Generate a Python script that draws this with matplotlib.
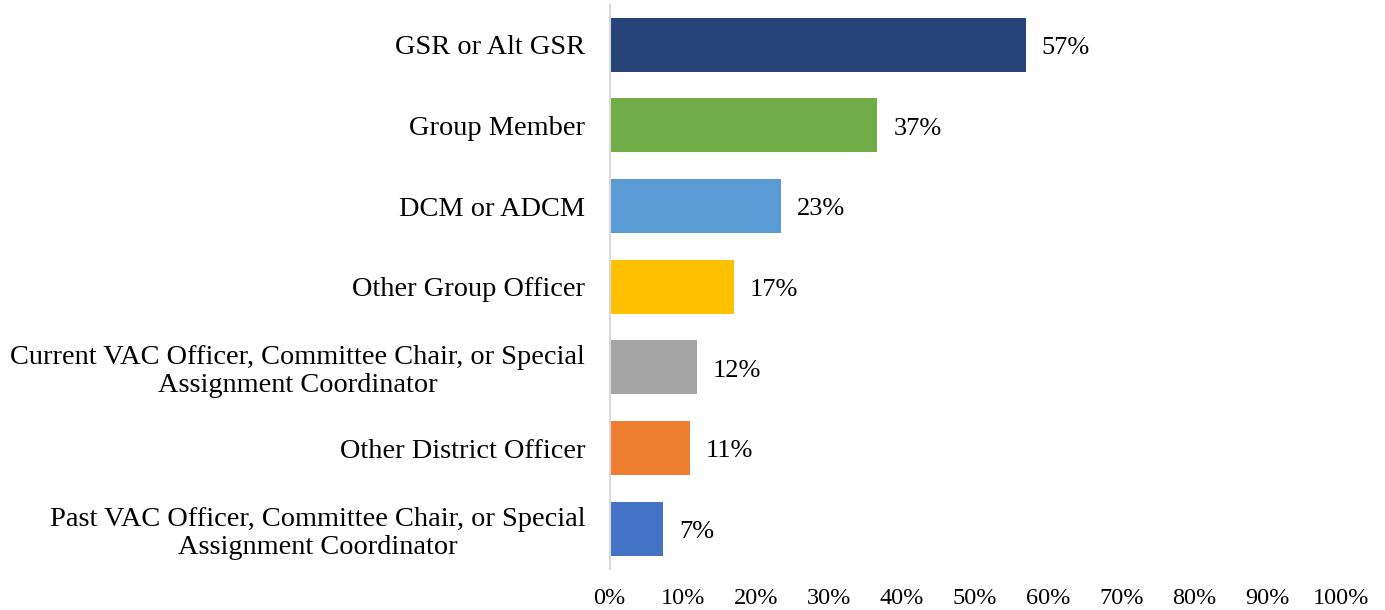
import matplotlib.pyplot as plt

categories = [
    'GSR or Alt GSR',
    'Group Member',
    'DCM or ADCM',
    'Other Group Officer',
    'Current VAC Officer, Committee Chair, or Special\nAssignment Coordinator',
    'Other District Officer',
    'Past VAC Officer, Committee Chair, or Special\nAssignment Coordinator',
]
values = [56.9, 36.6, 23.4, 17.0, 11.9, 11.0, 7.3]
value_labels = ['57%', '37%', '23%', '17%', '12%', '11%', '7%']
colors = ['#264478', '#70AD47', '#5B9BD5', '#FFC000', '#A5A5A5', '#ED7D31', '#4472C4']
xticks = list(range(0, 101, 10))

plt.rcParams['font.family'] = ['Liberation Serif', 'DejaVu Serif']

fig = plt.figure(figsize=(13.85, 6.10), dpi=100)
ax = fig.add_axes([609.5 / 1385, 1 - 569 / 610, (1341 - 609.5) / 1385, 564.5 / 610])

y = list(range(len(categories)))
ax.barh(y, values, height=0.67, color=colors)
for yi, v, lab in zip(y, values, value_labels):
    ax.text(v + 2.2, yi + 0.04, lab, va='center', ha='left', fontsize=19)

ax.set_ylim(len(categories) - 0.5, -0.5)
ax.set_xlim(0, 100)
ax.set_yticks(y)
ax.set_yticklabels(categories, fontsize=20.4, linespacing=1.16, multialignment='center')
ax.set_xticks(xticks)
ax.set_xticklabels([f'{t}%' for t in xticks], fontsize=17.5)
ax.tick_params(axis='y', length=0, pad=17.5)
ax.tick_params(axis='x', length=0, pad=14)
for s in ['top', 'right', 'bottom']:
    ax.spines[s].set_visible(False)
ax.spines['left'].set_color('#D9D9D9')
ax.spines['left'].set_linewidth(1.5)

fig.savefig('out.png', dpi=100)
